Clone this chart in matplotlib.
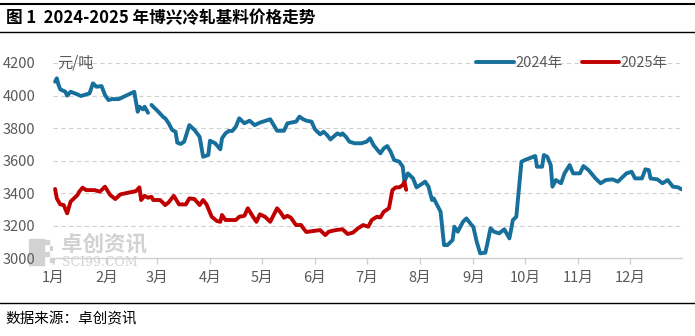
# coding=utf-8
"""
博兴冷轧基料价格走势 2024-2025, redrawn with matplotlib.
"""
import matplotlib
matplotlib.use("Agg")
import matplotlib.pyplot as plt
from matplotlib.lines import Line2D
from matplotlib.patches import Rectangle
import numpy
import pandas

# ---- data (元/吨) ----
dates_2024 = ["01-02", "01-03", "01-04", "01-05", "01-08", "01-09", "01-11", "01-15",
              "01-17", "01-22", "01-24", "01-26", "01-29", "01-31", "02-02", "02-04",
              "02-08", "02-17", "02-19", "02-20", "02-22", "02-23", "02-25", "02-26",
              "02-27", "03-02", "03-05", "03-06", "03-08", "03-10", "03-12", "03-13",
              "03-15", "03-17", "03-20", "03-23", "03-26", "03-28", "03-31", "04-01",
              "04-04", "04-07", "04-08", "04-10", "04-12", "04-14", "04-16", "04-18",
              "04-21", "04-24", "04-27", "04-30", "05-06", "05-10", "05-14", "05-16",
              "05-21", "05-23", "05-25", "05-27", "05-30", "06-01", "06-04", "06-06",
              "06-08", "06-10", "06-14", "06-16", "06-17", "06-19", "06-21", "06-24",
              "06-28", "07-01", "07-03", "07-05", "07-07", "07-09", "07-11", "07-13",
              "07-15", "07-17", "07-20", "07-22", "07-23", "07-25", "07-28", "07-30",
              "08-02", "08-04", "08-06", "08-08", "08-09", "08-11", "08-13", "08-15",
              "08-17", "08-20", "08-21", "08-23", "08-26", "08-28", "08-31", "09-01",
              "09-03", "09-05", "09-08", "09-09", "09-11", "09-13", "09-16", "09-19",
              "09-22", "09-24", "09-26", "09-29", "10-01", "10-07", "10-08", "10-11",
              "10-12", "10-14", "10-16", "10-17", "10-19", "10-22", "10-24", "10-27",
              "10-29", "11-02", "11-04", "11-07", "11-11", "11-14", "11-17", "11-21",
              "11-24", "11-29", "12-02", "12-04", "12-08", "12-10", "12-12", "12-13",
              "12-17", "12-20", "12-23", "12-26", "12-29", "12-31"]
price_2024 = [4085, 4106, 4065, 4038, 4023, 3999, 4023, 4007,
              3997, 4013, 4075, 4054, 4058, 4003, 3972, 3978,
              3978, 4023, 3900, 3931, 3915, 3931, 3894, numpy.nan,
              3942, 3900, 3866, 3860, 3829, 3788, 3777, 3710,
              3702, 3716, 3818, 3788, 3746, 3623, 3634, 3722,
              3706, 3669, 3737, 3767, 3782, 3782, 3808, 3860,
              3829, 3845, 3818, 3833, 3854, 3783, 3783, 3829,
              3839, 3870, 3855, 3845, 3839, 3792, 3761, 3777,
              3757, 3730, 3767, 3757, 3767, 3746, 3716, 3706,
              3706, 3716, 3737, 3695, 3669, 3644, 3675, 3689,
              3654, 3603, 3593, 3562, 3470, 3521, 3490, 3435,
              3455, 3470, 3439, 3357, 3367, 3326, 3285, 3080,
              3080, 3111, 3193, 3162, 3223, 3244, 3203, 3193,
              3100, 3029, 3033, 3080, 3183, 3162, 3152, 3177,
              3121, 3234, 3254, 3593, 3603, 3628, 3562, 3562,
              3634, 3623, 3572, 3439, 3480, 3460, 3521, 3572,
              3521, 3521, 3566, 3541, 3490, 3460, 3480, 3484,
              3470, 3521, 3531, 3490, 3490, 3546, 3541, 3490,
              3484, 3460, 3480, 3439, 3435, 3423]

dates_2025 = ["01-02", "01-03", "01-05", "01-07", "01-09", "01-11", "01-15", "01-16",
              "01-18", "01-20", "01-25", "01-28", "01-31", "02-03", "02-06", "02-09",
              "02-18", "02-20", "02-21", "02-23", "02-25", "02-27", "02-28", "03-03",
              "03-06", "03-08", "03-11", "03-14", "03-18", "03-20", "03-23", "03-26",
              "03-28", "03-30", "04-02", "04-05", "04-07", "04-08", "04-10", "04-16",
              "04-18", "04-21", "04-23", "04-26", "04-28", "04-30", "05-03", "05-06",
              "05-10", "05-12", "05-14", "05-16", "05-18", "05-21", "05-24", "05-25",
              "05-27", "05-30", "06-04", "06-07", "06-09", "06-13", "06-17", "06-20",
              "06-23", "06-26", "06-29", "07-02", "07-04", "07-07", "07-09", "07-11",
              "07-14", "07-16", "07-18", "07-20", "07-22", "07-23", "07-24"]
price_2025 = [3425, 3367, 3330, 3326, 3275, 3347, 3388, 3408,
              3433, 3418, 3418, 3408, 3439, 3388, 3363, 3392,
              3412, 3435, 3357, 3383, 3371, 3377, 3357, 3357,
              3326, 3343, 3383, 3330, 3330, 3367, 3363, 3326,
              3357, 3330, 3254, 3228, 3223, 3265, 3234, 3234,
              3254, 3260, 3306, 3254, 3223, 3269, 3254, 3223,
              3306, 3281, 3248, 3260, 3248, 3203, 3203, 3186,
              3160, 3165, 3172, 3141, 3162, 3172, 3177, 3148,
              3156, 3183, 3203, 3193, 3234, 3254, 3250, 3285,
              3306, 3418, 3435, 3435, 3449, 3470, 3420]

month_labels = ["1月", "2月", "3月", "4月", "5月", "6月",
                "7月", "8月", "9月", "10月", "11月", "12月"]
y_ticks = [3000, 3200, 3400, 3600, 3800, 4000, 4200]

CJK = ["Noto Sans CJK SC", "DejaVu Sans"]
GREY = "#595959"
BLUE = "#17709c"
RED = "#c00000"
MARK = "#d2d2d2"


def to_axis_dates(md_list):
    # both years share one Jan-Dec axis (2024 is a leap year, so 02-29 fits)
    return pandas.to_datetime(["2024-" + s for s in md_list])


def fx(px):
    return px / 695.0


def fy(py):
    return 1 - py / 336.0


def main():
    plt.rcParams["font.family"] = CJK

    fig = plt.figure(figsize=(6.95, 3.36), dpi=100)
    ax = fig.add_axes([0.0768, 0.232, 0.9038, 0.5805])

    ax.plot(to_axis_dates(dates_2024), price_2024, color=BLUE, lw=2.8,
            label="2024年", solid_capstyle="round", solid_joinstyle="round")
    ax.plot(to_axis_dates(dates_2025), price_2025, color=RED, lw=2.8,
            label="2025年", solid_capstyle="round", solid_joinstyle="round")

    ax.set_xlim(pandas.Timestamp("2024-01-01"), pandas.Timestamp("2024-12-31"))
    ax.set_ylim(3000, 4200)
    ax.set_yticks(y_ticks)
    ax.set_yticklabels([str(v) for v in y_ticks])

    month_starts = pandas.date_range("2024-01-01", periods=12, freq="MS")
    ax.set_xticks(month_starts)
    ax.set_xticklabels(month_labels)

    for v in y_ticks[1:]:
        ax.axhline(v, color="#d0d0d0", lw=0.8, ls=(0, (4, 3)), zorder=0)

    for side in ["left", "right", "top"]:
        ax.spines[side].set_visible(False)
    ax.spines["bottom"].set_color("#cfcfcf")
    ax.spines["bottom"].set_linewidth(1.0)
    ax.tick_params(axis="x", colors="#cfcfcf", length=4, width=1.0,
                   labelcolor=GREY, labelsize=10.5, pad=5)
    ax.tick_params(axis="y", length=0, labelcolor=GREY, labelsize=10.5, pad=13)

    ax.text(0.006, 1.0, "元/吨", transform=ax.transAxes, ha="left", va="center",
            fontsize=11, color=GREY)

    leg = ax.legend(loc="center", bbox_to_anchor=(0.823, 0.8125),
                    bbox_transform=fig.transFigure, ncol=2, frameon=False,
                    handlelength=2.6, handletextpad=0.1, columnspacing=1.3,
                    fontsize=10.5)
    for t in leg.get_texts():
        t.set_color(GREY)

    # watermark
    fig.add_artist(Rectangle((fx(29), fy(265)), 15 / 695, 26 / 336,
                             transform=fig.transFigure, color=MARK, zorder=0))
    for i in range(3):
        for j in range(4):
            if (i + j) % 2 == 0:
                fig.add_artist(Rectangle((fx(45 + 5 * i), fy(244 + 6 * j)),
                                         4 / 695, 4 / 336, transform=fig.transFigure,
                                         color=MARK, zorder=0))
    fig.text(fx(61), fy(244), "卓创资讯", fontsize=15.5, color=MARK,
             ha="left", va="center", weight="bold", zorder=0)
    fig.text(fx(62), fy(263), "SCI99.COM", fontsize=9, color=MARK,
             ha="left", va="center", family="DejaVu Serif", zorder=0)

    # title / source frame
    fig.add_artist(Line2D([0, 1], [fy(3.5)] * 2, transform=fig.transFigure,
                          color="black", lw=1.5))
    fig.add_artist(Line2D([0, 1], [fy(31.5)] * 2, transform=fig.transFigure,
                          color="black", lw=1.0))
    fig.add_artist(Line2D([0, 1], [fy(303)] * 2, transform=fig.transFigure,
                          color="black", lw=1.0))
    fig.text(fx(6), fy(18), "图 1  2024-2025 年博兴冷轧基料价格走势",
             fontsize=12, weight="bold", ha="left", va="center", color="black")
    fig.text(fx(5), fy(319), "数据来源：卓创资讯", fontsize=10.5,
             ha="left", va="center", color="black")

    fig.savefig("out.png", dpi=100)


if __name__ == "__main__":
    main()
